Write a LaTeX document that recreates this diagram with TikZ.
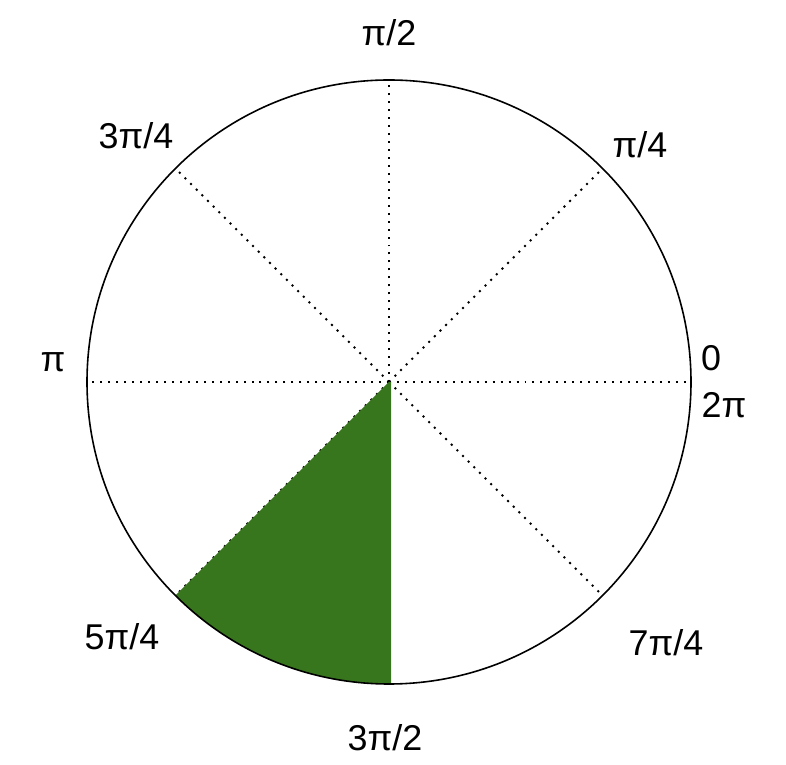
\documentclass[tikz,border=0pt]{standalone}
\usepackage{fontspec}
\setmainfont{Liberation Sans}
\usepackage{xcolor}
\usepackage{tikz}
\definecolor{wedgegreen}{HTML}{38761D}
\tikzset{
  rim/.style={line width=1.6pt, draw=black},
  spoke/.style={line width=2pt, draw=black, dash pattern=on 2pt off 6pt},
  wedgefill/.style={fill=wedgegreen, draw=none},
  anglabel/.style={font=\fontsize{36}{42}\selectfont, inner sep=0pt},
}

\begin{document}
\begin{tikzpicture}[x=1bp, y=1bp]
\useasboundingbox (0,0) rectangle (786,765);
\coordinate (o) at (389,383);
\foreach \a in {0,45,...,315}
  \draw[spoke] (o) -- ++(\a:302);
\fill[wedgefill] (o) -- ++(225:302) arc (225:270.4:302) -- ([xshift=2bp]o) -- cycle;
\draw[rim] (o) circle (302);
\node[anglabel] (half) at (389,732) {π/2};
\node[anglabel] (quarter) at (640,620) {π/4};
\node[anglabel] (zero) at (711,407) {0};
\node[anglabel] (full) at (724,360) {2π};
\node[anglabel] (threeq) at (136,629) {3π/4};
\node[anglabel] (pi) at (53,403) {π};
\node[anglabel] (fiveq) at (122,128) {5π/4};
\node[anglabel] (threeh) at (385,27) {3π/2};
\node[anglabel] (sevenq) at (666,122) {7π/4};
\end{tikzpicture}
\end{document}
